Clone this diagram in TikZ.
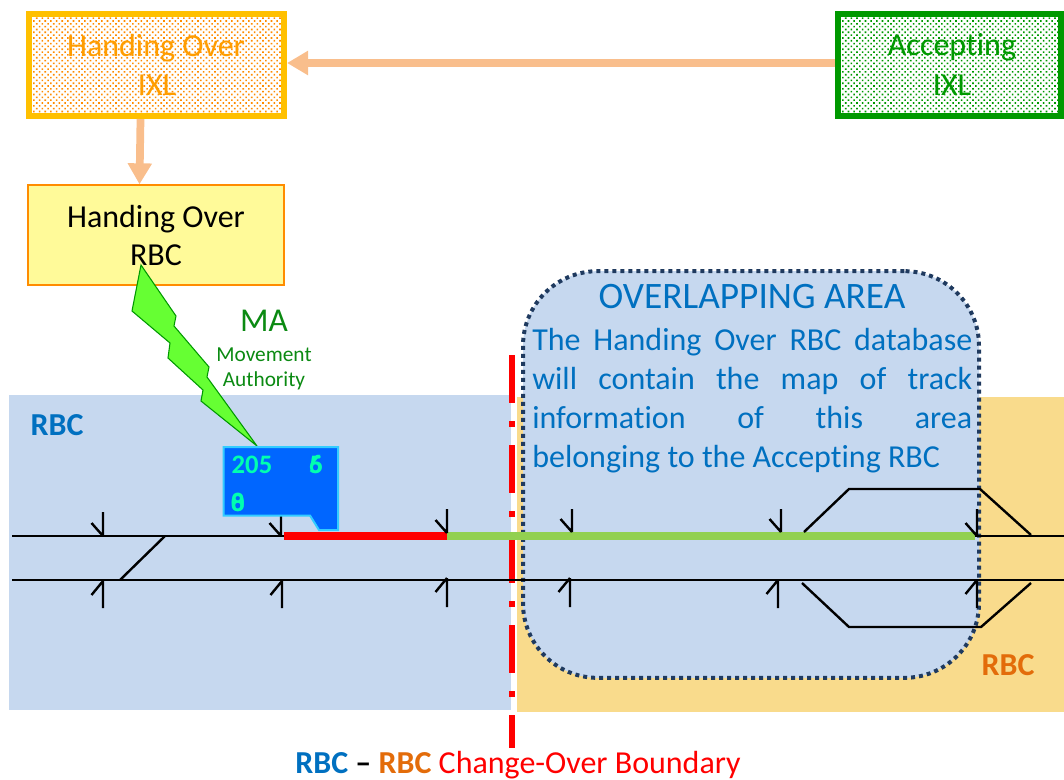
\documentclass[tikz,border=0pt]{standalone}
\usepackage{fontspec}
\setmainfont[Ligatures=NoCommon]{Carlito}
\usetikzlibrary{patterns.meta,arrows.meta}
\definecolor{rbcblue}{HTML}{C6D8EF}
\definecolor{rbcsand}{HTML}{F9DB8C}
\definecolor{txtblue}{HTML}{0070C0}
\definecolor{txtorange}{HTML}{E36C0A}
\definecolor{peach}{HTML}{F9BE8C}
\definecolor{ixlgold}{HTML}{FFC000}
\definecolor{ixlorange}{HTML}{FF8C00}
\definecolor{ixlgreen}{HTML}{009900}
\definecolor{dotnavy}{HTML}{1F3A5F}
\definecolor{trackgreen}{HTML}{92D050}
\definecolor{infocyan}{HTML}{33CCFF}
\definecolor{infoblue}{HTML}{0066FF}
\definecolor{digit}{HTML}{00FFB0}
\definecolor{boltgreen}{HTML}{66FF33}
\definecolor{magreen}{HTML}{0B8A12}
\tikzset{
  ixlbox/.style={draw,line width=4.5pt,minimum width=191.25pt,minimum height=76.5pt,inner sep=0pt,outer sep=2.25pt},
  bigtxt/.style={font=\fontsize{24}{24}\selectfont,inner sep=0pt,anchor=base},
  flow/.style={peach,line width=5.8pt,-{Triangle[length=15.75pt,width=17.25pt]}},
  track/.style={line width=1.8pt,black},
  sig/.style={line width=1.8pt,black},
  areatxt/.style={font=\fontsize{24}{24}\selectfont,text=txtblue,inner sep=0pt,anchor=base west},
  lab/.style={font=\bfseries\fontsize{24}{24}\selectfont,inner sep=0pt,anchor=base},
  digittxt/.style={font=\bfseries\fontsize{20}{20}\selectfont,text=digit,inner sep=0pt,anchor=base},
  matxt/.style={font=\fontsize{16}{16}\selectfont,text=magreen,inner sep=0pt,anchor=base},
  dotsfill/.style={pattern={Dots[radius=0.85pt,distance=3pt,angle=45]}},
}
\begin{document}
\begin{tikzpicture}[x=0.75pt,y=-0.75pt]
\useasboundingbox (0,0) rectangle (1064,779);
% areas
\fill[rbcblue] (9,395) rectangle (511,710);
\fill[rbcsand] (517,397) rectangle (1064,712);
\node[lab,text=txtblue] (rbcl) at (57,435) {RBC};
\node[lab,text=txtorange] (rbcr) at (1008,675.5) {RBC};
% overlap
\node[draw=dotnavy,fill=rbcblue,rounded corners=56pt,line width=3pt,dash pattern=on 3pt off 3pt,
  minimum width=342pt,minimum height=305pt,inner sep=0pt] (over) at (751,474.5) {};
\node[areatxt,anchor=base,font=\fontsize{28}{28}\selectfont] (ot) at (752,308) {OVERLAPPING AREA};
\node[areatxt] (o1) at (532,350) {\makebox[330pt][s]{The Handing Over RBC database}};
\node[areatxt] (o2) at (532,389) {\makebox[330pt][s]{will contain the map of track}};
\node[areatxt] (o3) at (532,428) {\makebox[330pt][s]{information of this area}};
\node[areatxt] (o4) at (532,467) {belonging to the Accepting RBC};
% boundary
\draw[red,line width=4.5pt,dash pattern=on 36pt off 13.5pt on 4.5pt off 13.5pt] (512,355) -- (512,748);
% tracks
\draw[track] (12,536) -- (285,536);
\draw[track] (975,536) -- (1064,536);
\draw[track] (12,580) -- (1064,580);
\draw[red,line width=6pt] (284,536) -- (447,536);
\draw[trackgreen,line width=6pt] (447,536) -- (975,536);
\draw[track] (120,580) -- (165,536);
\draw[track] (804,532) -- (849,489) -- (980,489) -- (1031,535);
\draw[track] (802,583) -- (849,627) -- (981,627) -- (1031,583);
% signals
\foreach \x/\t/\b in {103/512/536,281/510/536,447/509/533,572/509/532,781/509/532,977/509/536}
  \draw[sig] (\x,\t) -- (\x,\b) (\x-11.5,\b-13) -- (\x,\b);
\foreach \x/\t/\b in {103/581/608,282/581/608,447/578/607,570/578/607,778/580/608,977/580/608}
  \draw[sig] (\x,\t) -- (\x,\b) (\x-11.5,\t+14) -- (\x,\t);
% IXL boxes
\node[ixlbox,draw=ixlgold,dotsfill,pattern color=ixlorange] (hix) at (156.5,65) {};
\node[ixlbox,draw=ixlgreen,dotsfill,pattern color=ixlgreen,minimum width=167.25pt] (aix) at (949.5,65) {};
\node[bigtxt,text=ixlorange!85!yellow] (hix1) at (156,56) {Handing Over};
\node[bigtxt,text=ixlorange!85!yellow] (hix2) at (157,95.5) {IXL};
\node[bigtxt,text=ixlgreen] (aix1) at (952,55.5) {Accepting};
\node[bigtxt,text=ixlgreen] (aix2) at (952,95.5) {IXL};
% RBC box
\node[draw=orange!90!yellow,fill=yellow!40,line width=1.5pt,minimum width=192pt,minimum height=74.5pt,inner sep=0pt] (hrbc) at (155.5,235) {};
\node[bigtxt] (hrbc1) at (156,227) {Handing Over};
\node[bigtxt] (hrbc2) at (156,265.7) {RBC};
% flows
\draw[flow] ([yshift=1.5pt]aix.west) -- ([yshift=1.5pt]hix.east);
\draw[flow] ([xshift=-12pt]hix.south) -- ([xshift=-12pt]hrbc.north);
% bolt
\draw[draw=ixlgreen,fill=boltgreen,line width=0.8pt,line join=miter]
 (141,265) -- (176,316) -- (174,326) -- (209,367) -- (207,377) -- (257,446)
 -- (201,401) -- (203,390) -- (168,358) -- (170,343) -- (132,311) -- cycle;
% train label
\draw[draw=infocyan,fill=infoblue,line width=1.5pt] (223.5,447) -- (338,447) -- (338,530) -- (319,530) -- (310,515.5) -- (223.5,515.5) -- cycle;
\node[digittxt] (sp) at (252,473) {205};
\node[digittxt] (s5) at (316,473.3) {5};
\node[digittxt] (s6) at (316,473.3) {6};
\node[digittxt] (s0) at (238,511) {0};
\node[digittxt] (s8) at (238,511) {8};
% MA
\node[matxt,font=\fontsize{25}{25}\selectfont] (ma) at (264,331.5) {MA};
\node[matxt] (ma1) at (264,361) {Movement};
\node[matxt] (ma2) at (264,386.5) {Authority};
% caption
\node[font=\fontsize{24}{24}\selectfont,inner sep=0pt,anchor=base] (cap) at (518,773) {\textcolor{txtblue}{\textbf{RBC}} \textbf{–} \textcolor{txtorange}{\textbf{RBC}} \textcolor{red}{Change-Over Boundary}};
\end{tikzpicture}
\end{document}
